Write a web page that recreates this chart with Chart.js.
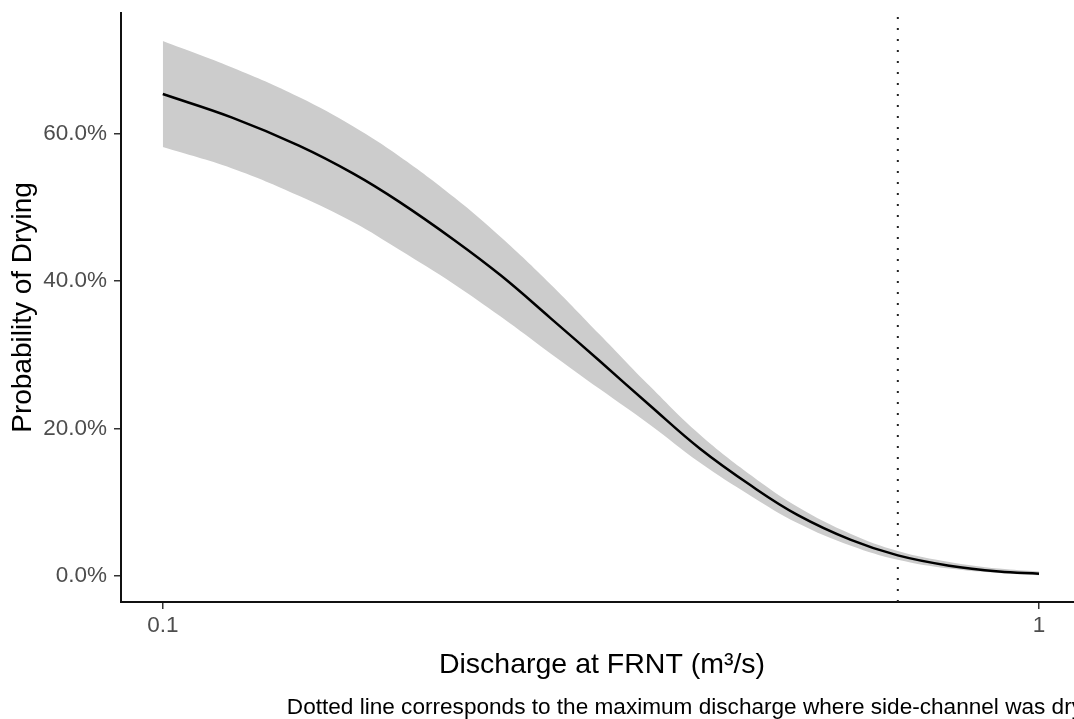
<!DOCTYPE html>
<html>
<head>
<meta charset="utf-8">
<script src="https://cdn.jsdelivr.net/npm/chart.js@4.4.0/dist/chart.umd.min.js"></script>
<style>
  html, body { margin: 0; padding: 0; background: #fff; overflow: hidden; }
  #wrap { width: 1090px; height: 719px; }
</style>
</head>
<body>
<div id="wrap"><canvas id="drying-chart" width="1090" height="719"></canvas></div>
<script>
// discharge at FRNT (m3/s), log axis
var discharge = [0.10, 0.12, 0.143, 0.165, 0.186, 0.215, 0.243, 0.277, 0.315, 0.36, 0.41, 0.47, 0.53, 0.61, 0.69, 0.79, 0.90, 1.00];
// probability of drying (%) - fitted line and ribbon
var probMean  = [65.4, 62.2, 58.4, 54.6, 50.8, 45.6, 40.8, 35.0, 29.2, 23.1, 17.3, 12.2, 8.3, 4.9, 2.8, 1.4, 0.6, 0.3];
var probUpper = [72.6, 69.0, 65.0, 61.0, 57.0, 51.4, 46.0, 39.6, 32.8, 25.7, 19.2, 13.6, 9.4, 5.7, 3.4, 1.9, 1.0, 0.6];
var probLower = [58.2, 55.3, 51.6, 48.0, 44.3, 39.6, 35.2, 30.2, 25.4, 20.5, 15.4, 10.8, 7.2, 4.1, 2.2, 1.0, 0.4, 0.1];

// max discharge where side-channel was dry
var dryDischarge = 0.69;

var xTicks = [0.1, 1];
var xTickLabels = ['0.1', '1'];
var yTicks = [0, 20, 40, 60];

var xMin = 0.0896, xMax = 1.1225;
var yMin = -3.53, yMax = 76.4;

var captionText = 'Dotted line corresponds to the maximum discharge where side-channel was dry';

function toPoints(xs, ys) {
    return xs.map(function (x, i) { return { x: x, y: ys[i] }; });
}

Chart.defaults.font.family = '"Liberation Sans", Arial, sans-serif';

var captionPlugin = {
    id: 'caption',
    afterDraw: function (chart) {
        var ctx = chart.ctx;
        ctx.save();
        ctx.font = '22.6px "Liberation Sans", Arial, sans-serif';
        ctx.fillStyle = '#000';
        ctx.textAlign = 'right';
        ctx.textBaseline = 'alphabetic';
        ctx.fillText(captionText, chart.chartArea.right, 714);
        ctx.restore();
    }
};

var ctx = document.getElementById('drying-chart').getContext('2d');

var dryingChart = new Chart(ctx, {
    type: 'line',
    data: {
        datasets: [
            {
                // fitted probability
                data: toPoints(discharge, probMean),
                borderColor: '#000000',
                borderWidth: 2.5,
                pointRadius: 0,
                tension: 0.4,
                fill: false
            },
            {
                // upper bound, filled down to lower bound
                data: toPoints(discharge, probUpper),
                borderWidth: 0,
                borderColor: 'rgba(0,0,0,0)',
                backgroundColor: '#cccccc',
                pointRadius: 0,
                tension: 0.4,
                fill: '+1'
            },
            {
                data: toPoints(discharge, probLower),
                borderWidth: 0,
                borderColor: 'rgba(0,0,0,0)',
                pointRadius: 0,
                tension: 0.4,
                fill: false
            },
            {
                // dotted threshold line
                data: [{ x: dryDischarge, y: yMin }, { x: dryDischarge, y: yMax }],
                borderColor: '#222222',
                borderWidth: 2,
                borderDash: [2, 9],
                pointRadius: 0,
                fill: false
            }
        ]
    },
    options: {
        responsive: false,
        animation: false,
        layout: {
            padding: { top: 13, right: 7, left: 0, bottom: 0 }
        },
        plugins: {
            legend: { display: false },
            tooltip: { enabled: false }
        },
        scales: {
            x: {
                type: 'logarithmic',
                min: xMin,
                max: xMax,
                afterBuildTicks: function (scale) {
                    scale.ticks = xTicks.map(function (v) { return { value: v }; });
                },
                afterFit: function (scale) {
                    scale.height = 117;
                    scale.paddingLeft = 0;
                    scale.paddingRight = 0;
                },
                ticks: {
                    color: '#4d4d4d',
                    font: { size: 22.5 },
                    padding: 3,
                    maxRotation: 0,
                    autoSkip: false,
                    callback: function (value) {
                        var i = xTicks.indexOf(value);
                        return i >= 0 ? xTickLabels[i] : '';
                    }
                },
                grid: {
                    display: true,
                    drawOnChartArea: false,
                    drawTicks: true,
                    tickLength: 7,
                    tickColor: '#333333',
                    lineWidth: 1.5
                },
                border: { display: true, color: '#111111', width: 2 },
                title: {
                    display: true,
                    text: 'Discharge at FRNT (m\u00b3/s)',
                    color: '#000',
                    font: { size: 28.5 },
                    padding: { top: 0, bottom: 37 }
                }
            },
            y: {
                type: 'linear',
                min: yMin,
                max: yMax,
                afterBuildTicks: function (scale) {
                    scale.ticks = yTicks.map(function (v) { return { value: v }; });
                },
                afterFit: function (scale) {
                    scale.width = 121;
                    scale.paddingTop = 0;
                    scale.paddingBottom = 0;
                },
                ticks: {
                    color: '#4d4d4d',
                    font: { size: 22.5 },
                    padding: 7,
                    callback: function (value) {
                        return value.toFixed(1) + '%';
                    }
                },
                grid: {
                    display: true,
                    drawOnChartArea: false,
                    drawTicks: true,
                    tickLength: 7,
                    tickColor: '#333333',
                    lineWidth: 1.5
                },
                border: { display: true, color: '#111111', width: 2 },
                title: {
                    display: true,
                    text: 'Probability of Drying',
                    color: '#000',
                    font: { size: 28 },
                    padding: { top: 6, bottom: 0 }
                }
            }
        }
    },
    plugins: [captionPlugin]
});
</script>
</body>
</html>
